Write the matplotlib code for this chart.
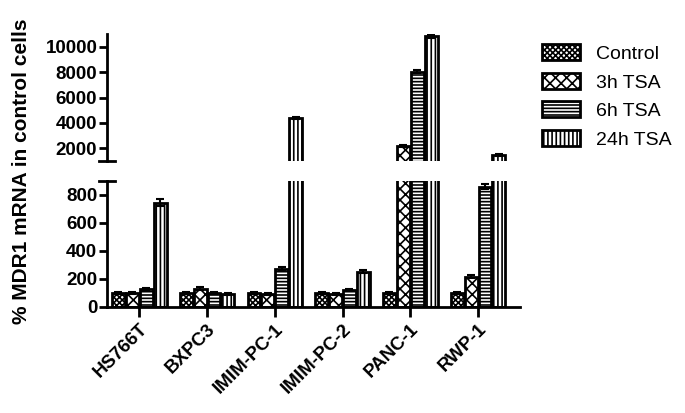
import numpy as np
import matplotlib.pyplot as plt

plt.rcParams['font.family'] = ['Liberation Sans', 'DejaVu Sans']
plt.rcParams['hatch.linewidth'] = 1.2

# data
cells = ["HS766T", "BXPC3", "IMIM-PC-1", "IMIM-PC-2", "PANC-1", "RWP-1"]
series = ["Control", "3h TSA", "6h TSA", "24h TSA"]
control = [100, 100, 100, 100, 100, 100]
tsa_3h = [100, 130, 90, 90, 2150, 215]
tsa_6h = [125, 100, 270, 120, 8050, 860]
tsa_24h = [745, 90, 4380, 250, 10850, 1450]
err_control = [8, 8, 8, 8, 8, 8]
err_3h = [8, 10, 8, 8, 80, 10]
err_6h = [10, 8, 12, 8, 100, 15]
err_24h = [25, 8, 90, 12, 120, 60]

values = [control, tsa_3h, tsa_6h, tsa_24h]
errors = [err_control, err_3h, err_6h, err_24h]
hatches = ["xxxxxx", "xxx", "-----", "||||"]

fig = plt.figure(figsize=(6.85, 4.13), dpi=100)
ax_lo = fig.add_axes([0.1562, 0.2574, 0.603, 0.3044])
ax_hi = fig.add_axes([0.1562, 0.6109, 0.603, 0.306])

x = np.arange(len(cells))
w = 0.19
offsets = [-1.5, -0.5, 0.5, 1.5]

for ax, lo, hi in ((ax_lo, 0, 900), (ax_hi, 1000, 11000)):
    for vals, errs, h, off, name in zip(values, errors, hatches, offsets, series):
        xs = x + off * (w + 0.015)
        ax.bar(xs, vals, w, color="white", edgecolor="black",
               linewidth=2, hatch=h, label=name, zorder=2)
        vis = [(xi, v, e) for xi, v, e in zip(xs, vals, errs) if lo < v < hi]
        if vis:
            ex, ev, ee = zip(*vis)
            ax.errorbar(ex, ev, yerr=ee, fmt="none", ecolor="black",
                        elinewidth=1.5, capsize=3, capthick=1.5, zorder=3)
    ax.set_xlim(-0.477, 5.62)
    ax.set_ylim(lo, hi)
    for s in ["top", "right"]:
        ax.spines[s].set_visible(False)
    ax.spines["left"].set_linewidth(2)
    ax.tick_params(axis="y", width=2, length=6, pad=1)

# lower panel
ax_lo.set_yticks([0, 200, 400, 600, 800])
ax_lo.set_yticklabels(["0", "200", "400", "600", "800"], fontweight="bold", fontsize=13.5)
ax_lo.spines["bottom"].set_linewidth(2)
ax_lo.set_xticks(x)
ax_lo.set_xticklabels(cells, rotation=45, ha="right", rotation_mode="anchor",
                      fontweight="bold", fontsize=13.5)
ax_lo.tick_params(axis="x", width=2, length=7, pad=3)
ax_lo.plot([-0.02, 0.02], [1, 1], transform=ax_lo.transAxes, color="black",
           linewidth=2, clip_on=False)

# upper panel
ax_hi.set_yticks([2000, 4000, 6000, 8000, 10000])
ax_hi.set_yticklabels(["2000", "4000", "6000", "8000", "10000"], fontweight="bold", fontsize=13.5)
ax_hi.spines["bottom"].set_visible(False)
ax_hi.set_xticks([])
ax_hi.plot([-0.02, 0.02], [0, 0], transform=ax_hi.transAxes, color="black",
           linewidth=2, clip_on=False)

fig.text(0.032, 0.585, "% MDR1 mRNA in control cells", rotation=90, ha="center",
         va="center", fontsize=15, fontweight="bold")

handles, labels = ax_hi.get_legend_handles_labels()
fig.legend(handles[:4], labels[:4], loc="upper left", bbox_to_anchor=(0.765, 0.935),
           frameon=False, fontsize=14, handlelength=2.0, handleheight=0.9,
           labelspacing=0.5, handletextpad=0.8)

fig.savefig("out.png", dpi=100)
